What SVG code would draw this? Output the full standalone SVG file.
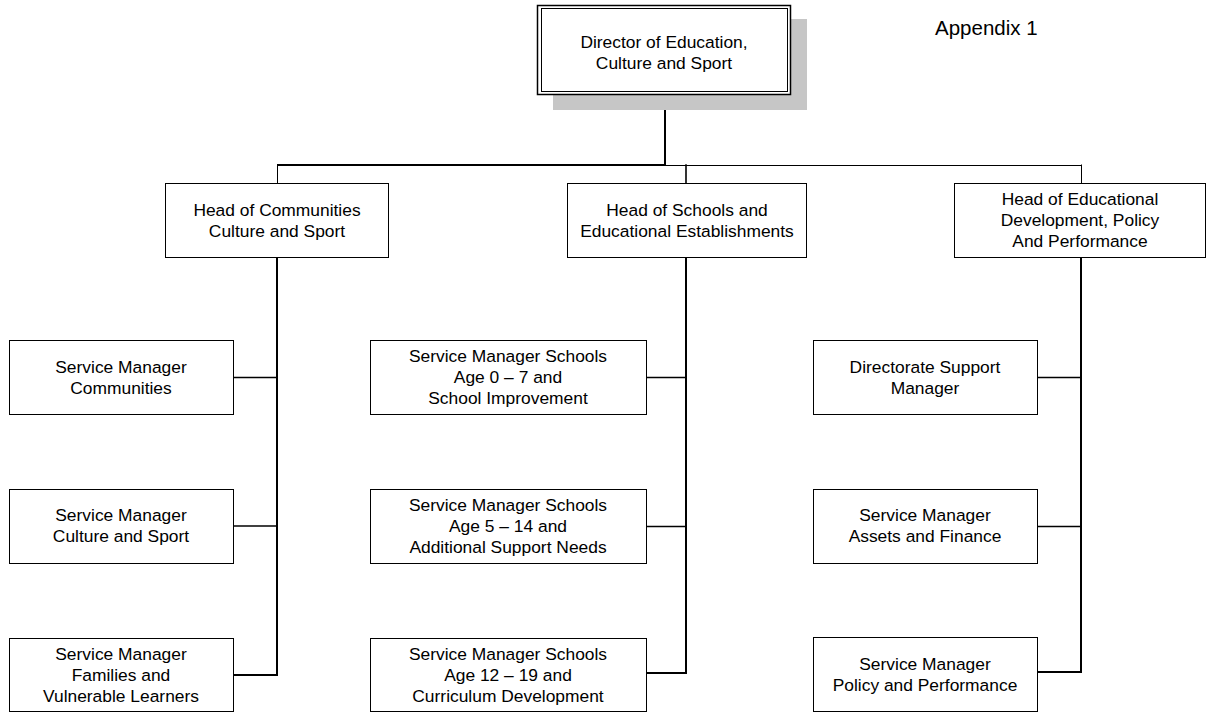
<svg xmlns="http://www.w3.org/2000/svg" width="1206" height="713" viewBox="0 0 1206 713">
  <style>
    .box { fill: #ffffff; stroke: #000000; stroke-width: 1; }
    .t { font-family: "Liberation Sans", Arial, sans-serif; font-size: 17.4px; fill: #000000; text-anchor: middle; }
    .c { fill: none; stroke: #000000; stroke-linecap: square; }
    .thick { stroke-width: 2; }
    .mid { stroke-width: 1.6; }
    .thin { stroke-width: 1; }
  </style>
  <rect width="1206" height="713" fill="#ffffff"/>

  <text x="935" y="35" font-family="Liberation Sans, Arial, sans-serif" font-size="20.5px" fill="#000000">Appendix 1</text>

  <g id="connectors">
    <line class="c thick" x1="665" y1="96" x2="665" y2="165"/>
    <line class="c thick" x1="278" y1="165" x2="665" y2="165"/>
    <line class="c thin" x1="665" y1="165.5" x2="1081.5" y2="165.5"/>
    <line class="c thin" x1="277.5" y1="165" x2="277.5" y2="183"/>
    <line class="c mid" x1="686" y1="165" x2="686" y2="183"/>
    <line class="c thin" x1="1081.5" y1="165" x2="1081.5" y2="183"/>

    <polyline class="c thick" points="277,258 277,675 234,675"/>
    <line class="c mid" x1="234" y1="377.5" x2="277" y2="377.5"/>
    <line class="c mid" x1="234" y1="526" x2="277" y2="526"/>

    <polyline class="c thick" points="686,258 686,673 647,673"/>
    <line class="c mid" x1="647" y1="377.5" x2="686" y2="377.5"/>
    <line class="c mid" x1="647" y1="526.5" x2="686" y2="526.5"/>

    <polyline class="c thick" points="1081,258 1081,672 1038,672"/>
    <line class="c mid" x1="1038" y1="377.5" x2="1081" y2="377.5"/>
    <line class="c mid" x1="1038" y1="526.5" x2="1081" y2="526.5"/>
  </g>

  <g id="director">
    <rect x="553" y="19" width="254" height="91" fill="#c6c6c6"/>
    <rect x="537.5" y="5.5" width="253" height="89" fill="#ffffff" stroke="#000000" stroke-width="1.5"/>
    <rect x="541.5" y="8.5" width="246" height="83" fill="none" stroke="#000000" stroke-width="1"/>
    <text class="t" x="664" y="48">Director of Education,</text>
    <text class="t" x="664" y="69">Culture and Sport</text>
  </g>

  <g id="head-communities">
    <rect class="box" x="165.5" y="183.5" width="223" height="74"/>
    <text class="t" x="277" y="215.5">Head of Communities</text>
    <text class="t" x="277" y="236.5">Culture and Sport</text>
  </g>

  <g id="head-schools">
    <rect class="box" x="567.5" y="183.5" width="239" height="74"/>
    <text class="t" x="687" y="215.5">Head of Schools and</text>
    <text class="t" x="687" y="236.5">Educational Establishments</text>
  </g>

  <g id="head-development">
    <rect class="box" x="954.5" y="183.5" width="251" height="74"/>
    <text class="t" x="1080" y="205">Head of Educational</text>
    <text class="t" x="1080" y="226">Development, Policy</text>
    <text class="t" x="1080" y="247">And Performance</text>
  </g>

  <g id="sm-communities">
    <rect class="box" x="9.5" y="340.5" width="224" height="74"/>
    <text class="t" x="121" y="372.5">Service Manager</text>
    <text class="t" x="121" y="393.5">Communities</text>
  </g>

  <g id="sm-culture-sport">
    <rect class="box" x="9.5" y="489.5" width="224" height="74"/>
    <text class="t" x="121" y="521">Service Manager</text>
    <text class="t" x="121" y="542">Culture and Sport</text>
  </g>

  <g id="sm-families">
    <rect class="box" x="9.5" y="638.5" width="224" height="73"/>
    <text class="t" x="121" y="659.5">Service Manager</text>
    <text class="t" x="121" y="680.5">Families and</text>
    <text class="t" x="121" y="701.5">Vulnerable Learners</text>
  </g>

  <g id="sm-schools-0-7">
    <rect class="box" x="370.5" y="340.5" width="276" height="74"/>
    <text class="t" x="508" y="362">Service Manager Schools</text>
    <text class="t" x="508" y="383">Age 0 – 7 and</text>
    <text class="t" x="508" y="404">School Improvement</text>
  </g>

  <g id="sm-schools-5-14">
    <rect class="box" x="370.5" y="489.5" width="276" height="74"/>
    <text class="t" x="508" y="511">Service Manager Schools</text>
    <text class="t" x="508" y="532">Age 5 – 14 and</text>
    <text class="t" x="508" y="553">Additional Support Needs</text>
  </g>

  <g id="sm-schools-12-19">
    <rect class="box" x="370.5" y="638.5" width="276" height="73"/>
    <text class="t" x="508" y="659.5">Service Manager Schools</text>
    <text class="t" x="508" y="680.5">Age 12 – 19 and</text>
    <text class="t" x="508" y="701.5">Curriculum Development</text>
  </g>

  <g id="directorate-support">
    <rect class="box" x="813.5" y="340.5" width="224" height="74"/>
    <text class="t" x="925" y="372.5">Directorate Support</text>
    <text class="t" x="925" y="393.5">Manager</text>
  </g>

  <g id="sm-assets-finance">
    <rect class="box" x="813.5" y="489.5" width="224" height="74"/>
    <text class="t" x="925" y="521">Service Manager</text>
    <text class="t" x="925" y="542">Assets and Finance</text>
  </g>

  <g id="sm-policy-performance">
    <rect class="box" x="813.5" y="637.5" width="224" height="74"/>
    <text class="t" x="925" y="669.5">Service Manager</text>
    <text class="t" x="925" y="690.5">Policy and Performance</text>
  </g>
</svg>
